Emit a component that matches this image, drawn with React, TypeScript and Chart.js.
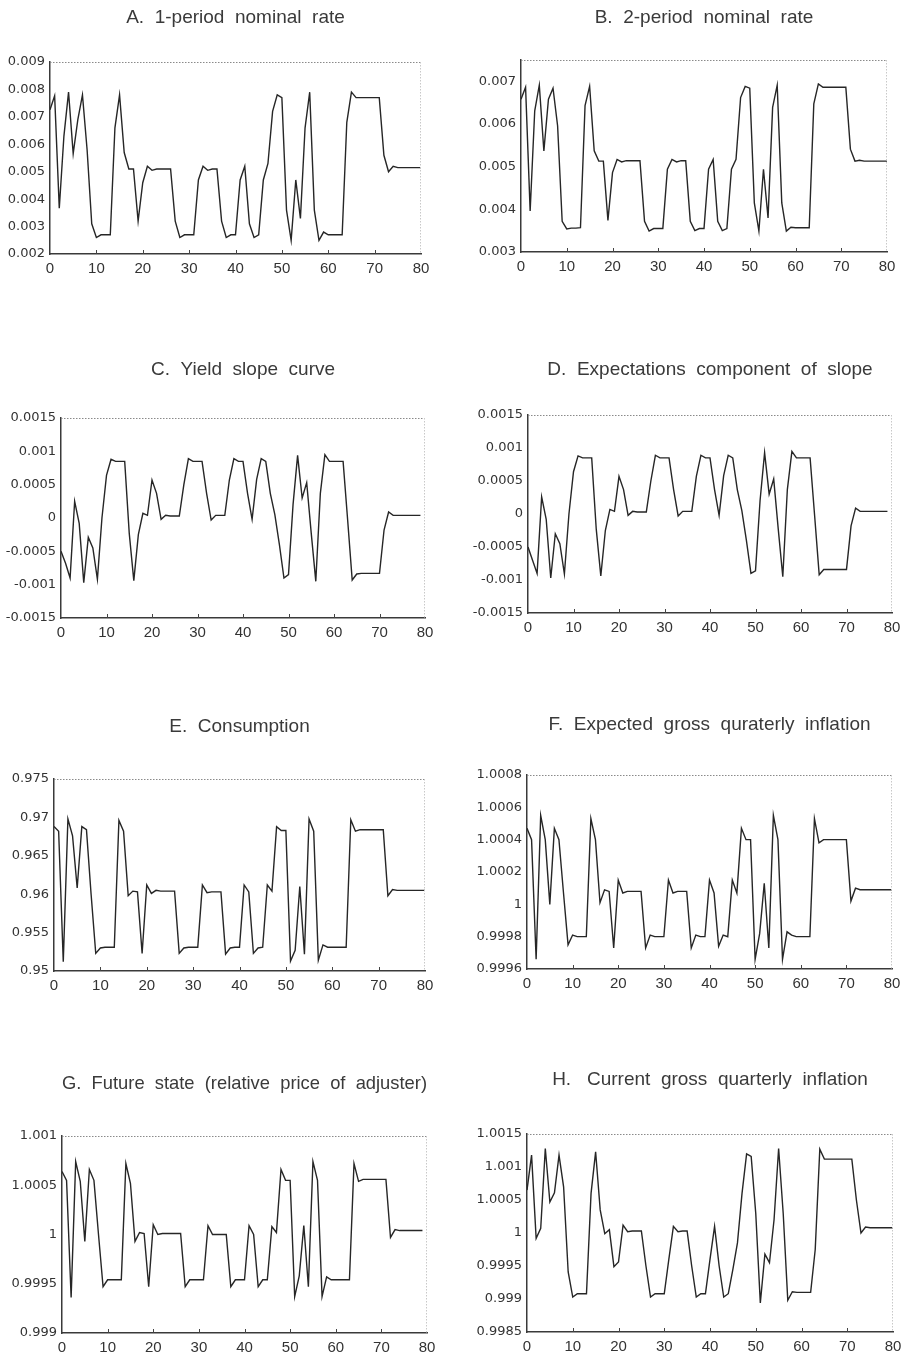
import React, { useEffect, useRef } from "react";
import { Chart, registerables } from "chart.js";

Chart.register(...registerables);

// ---------- data ----------
const xTickValues = [0, 10, 20, 30, 40, 50, 60, 70, 80];
const xTickLabels = ["0", "10", "20", "30", "40", "50", "60", "70", "80"];

const rate1 = [
  0.00726, 0.00777, 0.00367, 0.0063, 0.0079, 0.00566, 0.0069, 0.0078, 0.0058, 0.0031,
  0.0026, 0.0027, 0.0027, 0.0027, 0.0066, 0.0078, 0.0057, 0.0051, 0.0051, 0.0032,
  0.0046, 0.0052, 0.00505, 0.0051, 0.0051, 0.0051, 0.0051, 0.0032, 0.0026, 0.0027,
  0.0027, 0.0027, 0.0047, 0.0052, 0.00505, 0.0051, 0.0051, 0.0032, 0.0026, 0.0027,
  0.0027, 0.0047, 0.0052, 0.0031, 0.0026, 0.0027, 0.0047, 0.0053, 0.0072, 0.0078,
  0.0077, 0.0036, 0.0025, 0.0047, 0.0033, 0.0066, 0.0079, 0.0036, 0.0025, 0.0028,
  0.0027, 0.0027, 0.0027, 0.0027, 0.0068, 0.0079, 0.0077, 0.0077, 0.0077, 0.0077,
  0.0077, 0.0077, 0.0056, 0.005, 0.0052, 0.00515, 0.00515, 0.00515, 0.00515, 0.00515, 0.00515,
];
const rate1Ticks = [0.002, 0.003, 0.004, 0.005, 0.006, 0.007, 0.008, 0.009];
const rate1Labels = ["0.002", "0.003", "0.004", "0.005", "0.006", "0.007", "0.008", "0.009"];

const rate2 = [
  0.00658, 0.00686, 0.00396, 0.00631, 0.00691, 0.00537, 0.00658, 0.00684, 0.00596, 0.00372,
  0.00354, 0.00356, 0.00356, 0.00357, 0.00643, 0.00688, 0.00537, 0.00513, 0.00513, 0.00374,
  0.00486, 0.00517, 0.00511, 0.00514, 0.00514, 0.00514, 0.00514, 0.00372, 0.00349, 0.00355,
  0.00355, 0.00355, 0.00494, 0.00517, 0.00511, 0.00514, 0.00514, 0.00372, 0.0035, 0.00355,
  0.00355, 0.00494, 0.00517, 0.00372, 0.0035, 0.00355, 0.00494, 0.00517, 0.00662, 0.00688,
  0.00684, 0.00415, 0.00349, 0.00494, 0.0038, 0.00639, 0.00691, 0.00415, 0.00349, 0.00358,
  0.00357, 0.00357, 0.00357, 0.00357, 0.00647, 0.00694, 0.00686, 0.00686, 0.00686, 0.00686,
  0.00686, 0.00686, 0.00541, 0.00513, 0.00515, 0.00513, 0.00513, 0.00513, 0.00513, 0.00513, 0.00513,
];
const rate2Ticks = [0.003, 0.004, 0.005, 0.006, 0.007];
const rate2Labels = ["0.003", "0.004", "0.005", "0.006", "0.007"];

const slope = [
  -0.0005, -0.00068, -0.0009, 0.00025, -0.00008, -0.00097, -0.00029, -0.00045, -0.00092, 0.0,
  0.00064, 0.00088, 0.00085, 0.00085, 0.00085, -0.00023, -0.00094, -0.00025, 0.00007, 0.00004,
  0.00057, 0.00037, -0.00002, 0.00004, 0.00003, 0.00003, 0.00003, 0.0005, 0.00089, 0.00085,
  0.00085, 0.00085, 0.00037, -0.00003, 0.00004, 0.00004, 0.00004, 0.00057, 0.00089, 0.00085,
  0.00085, 0.00037, -0.00002, 0.00058, 0.00089, 0.00085, 0.00037, 0.00005, -0.0004, -0.0009,
  -0.00085, 0.0002, 0.00094, 0.0003, 0.00053, -0.00023, -0.00095, 0.00037, 0.00095, 0.00085,
  0.00085, 0.00085, 0.00085, -0.00003, -0.00093, -0.00084, -0.00083, -0.00083, -0.00083, -0.00083,
  -0.00083, -0.00018, 0.00009, 0.00004, 0.00004, 0.00004, 0.00004, 0.00004, 0.00004, 0.00004,
];
const expSlope = [
  -0.0005, -0.0007, -0.0009, 0.00026, -0.00008, -0.00097, -0.0003, -0.00045, -0.00091, 0.0,
  0.00064, 0.00088, 0.00085, 0.00085, 0.00085, -0.00023, -0.00094, -0.00025, 0.00007, 0.00004,
  0.00057, 0.00037, -0.00002, 0.00004, 0.00003, 0.00003, 0.00003, 0.0005, 0.00089, 0.00085,
  0.00085, 0.00085, 0.00037, -0.00003, 0.00004, 0.00004, 0.00004, 0.00057, 0.00089, 0.00085,
  0.00085, 0.00037, -0.00002, 0.00058, 0.00089, 0.00085, 0.00037, 0.00005, -0.0004, -0.0009,
  -0.00086, 0.0002, 0.00093, 0.0003, 0.00053, -0.00023, -0.00095, 0.00037, 0.00095, 0.00085,
  0.00085, 0.00085, 0.00085, -0.00003, -0.00092, -0.00084, -0.00084, -0.00084, -0.00084, -0.00084,
  -0.00084, -0.00018, 0.00009, 0.00004, 0.00004, 0.00004, 0.00004, 0.00004, 0.00004, 0.00004,
];
const slopeTicks = [-0.0015, -0.001, -0.0005, 0, 0.0005, 0.001, 0.0015];
const slopeLabels = ["-0.0015", "-0.001", "-0.0005", "0", "0.0005", "0.001", "0.0015"];

const consumption = [
  0.9688, 0.9682, 0.9512, 0.9698, 0.9676, 0.9608, 0.9688, 0.9684, 0.96, 0.9523,
  0.953, 0.9531, 0.9531, 0.9531, 0.9696, 0.9682, 0.9598, 0.9604, 0.9603, 0.9523,
  0.9612, 0.9601, 0.9605, 0.9604, 0.9604, 0.9604, 0.9604, 0.9523, 0.953, 0.9531,
  0.9531, 0.9531, 0.9612, 0.9602, 0.9603, 0.9603, 0.9603, 0.9522, 0.953, 0.9531,
  0.9531, 0.9612, 0.9603, 0.9523, 0.953, 0.9531, 0.9612, 0.9604, 0.9688, 0.9683,
  0.9683, 0.9513, 0.9527, 0.961, 0.9522, 0.9698, 0.9682, 0.9514, 0.9534, 0.9531,
  0.9531, 0.9531, 0.9531, 0.9531, 0.9697, 0.9682, 0.9684, 0.9684, 0.9684, 0.9684,
  0.9684, 0.9684, 0.9598, 0.9606, 0.9605, 0.9605, 0.9605, 0.9605, 0.9605, 0.9605, 0.9605,
];
const consTicks = [0.95, 0.955, 0.96, 0.965, 0.97, 0.975];
const consLabels = ["0.95", "0.955", "0.96", "0.965", "0.97", "0.975"];

const expInfl = [
  1.00047, 1.0004, 0.99966, 1.00055, 1.0004, 1.0, 1.00047, 1.0004, 1.00007, 0.99975,
  0.99981, 0.9998, 0.9998, 0.9998, 1.00053, 1.0004, 1.00001, 1.00009, 1.00008, 0.99973,
  1.00015, 1.00007, 1.00008, 1.00008, 1.00008, 1.00008, 0.99973, 0.99981, 0.9998, 0.9998,
  0.9998, 1.00015, 1.00007, 1.00008, 1.00008, 1.00008, 0.99973, 0.99981, 0.9998, 0.9998,
  1.00015, 1.00007, 0.99974, 0.99981, 0.9998, 1.00015, 1.00007, 1.00047, 1.0004, 1.0004,
  0.99966, 0.99982, 1.00013, 0.99973, 1.00055, 1.0004, 0.99966, 0.99983, 0.99981, 0.9998,
  0.9998, 0.9998, 0.9998, 1.00053, 1.00038, 1.0004, 1.0004, 1.0004, 1.0004, 1.0004,
  1.0004, 1.00002, 1.0001, 1.00009, 1.00009, 1.00009, 1.00009, 1.00009, 1.00009, 1.00009, 1.00009,
];
const expInflTicks = [0.9996, 0.9998, 1, 1.0002, 1.0004, 1.0006, 1.0008];
const expInflLabels = ["0.9996", "0.9998", "1", "1.0002", "1.0004", "1.0006", "1.0008"];

const futureState = [
  1.00064, 1.00055, 0.99936, 1.00074, 1.00054, 0.99993, 1.00066, 1.00055, 1.0, 0.99947,
  0.99954, 0.99954, 0.99954, 0.99954, 1.00072, 1.00052, 0.99993, 1.00002, 1.00001, 0.99947,
  1.0001, 1.0, 1.00001, 1.00001, 1.00001, 1.00001, 1.00001, 0.99947, 0.99954, 0.99954,
  0.99954, 0.99954, 1.00009, 1.0, 1.0, 1.0, 1.0, 0.99947, 0.99954, 0.99954,
  0.99954, 1.00009, 1.0, 0.99947, 0.99954, 0.99954, 1.00008, 1.00002, 1.00066, 1.00055,
  1.00055, 0.99937, 0.99958, 1.00009, 0.99947, 1.00074, 1.00055, 0.99937, 0.99957, 0.99954,
  0.99954, 0.99954, 0.99954, 0.99954, 1.00072, 1.00054, 1.00056, 1.00056, 1.00056, 1.00056,
  1.00056, 1.00056, 0.99997, 1.00005, 1.00004, 1.00004, 1.00004, 1.00004, 1.00004, 1.00004,
];
const futureTicks = [0.999, 0.9995, 1, 1.0005, 1.001];
const futureLabels = ["0.999", "0.9995", "1", "1.0005", "1.001"];

const curInfl = [
  1.00065, 1.00118, 0.99992, 1.00007, 1.00128, 1.00047, 1.00061, 1.00118, 1.0007, 0.99941,
  0.99903, 0.99908, 0.99908, 0.99908, 1.0006, 1.00123, 1.00035, 0.99999, 1.00005, 0.99949,
  0.99956, 1.00012, 1.00002, 1.00003, 1.00003, 1.00003, 0.9995, 0.99903, 0.99908, 0.99908,
  0.99908, 0.9996, 1.0001, 1.00002, 1.00003, 1.00003, 0.9995, 0.99903, 0.99908, 0.99908,
  0.9996, 1.0001, 0.9995, 0.99903, 0.99908, 0.99945, 0.99985, 1.0006, 1.0012, 1.00116,
  1.0003, 0.99894, 0.99968, 0.99955, 1.0002, 1.00128, 1.0003, 0.99898, 0.99911, 0.9991,
  0.9991, 0.9991, 0.9991, 0.99975, 1.00127, 1.00112, 1.00112, 1.00112, 1.00112, 1.00112,
  1.00112, 1.00112, 1.0005, 1.0, 1.00009, 1.00008, 1.00008, 1.00008, 1.00008, 1.00008, 1.00008,
];
const curInflTicks = [0.9985, 0.999, 0.9995, 1, 1.0005, 1.001, 1.0015];
const curInflLabels = ["0.9985", "0.999", "0.9995", "1", "1.0005", "1.001", "1.0015"];

// ---------- panels ----------
type PanelCfg = {
  title: string;
  values: number[];
  yMin: number;
  yMax: number;
  yTicks: number[];
  yLabels: string[];
  box: { L: number; T: number; R: number; B: number; ty: number };
};

const panels: PanelCfg[] = [
  { title: "A.  1-period  nominal  rate", values: rate1, yMin: 0.002, yMax: 0.009, yTicks: rate1Ticks, yLabels: rate1Labels, box: { L: 50, T: 62, R: 421, B: 254, ty: 18 } },
  { title: "B.  2-period  nominal  rate", values: rate2, yMin: 0.003, yMax: 0.0075, yTicks: rate2Ticks, yLabels: rate2Labels, box: { L: 521, T: 60, R: 887, B: 252, ty: 18 } },
  { title: "C.  Yield  slope  curve", values: slope, yMin: -0.0015, yMax: 0.0015, yTicks: slopeTicks, yLabels: slopeLabels, box: { L: 61, T: 418, R: 425, B: 618, ty: 370 } },
  { title: "D.  Expectations  component  of  slope", values: expSlope, yMin: -0.0015, yMax: 0.0015, yTicks: slopeTicks, yLabels: slopeLabels, box: { L: 528, T: 415, R: 892, B: 613, ty: 370 } },
  { title: "E.  Consumption", values: consumption, yMin: 0.95, yMax: 0.975, yTicks: consTicks, yLabels: consLabels, box: { L: 54, T: 779, R: 425, B: 971, ty: 727 } },
  { title: "F.  Expected  gross  quraterly  inflation", values: expInfl, yMin: 0.9996, yMax: 1.0008, yTicks: expInflTicks, yLabels: expInflLabels, box: { L: 527, T: 775, R: 892, B: 969, ty: 725 } },
  { title: "G.  Future  state  (relative  price  of  adjuster)", values: futureState, yMin: 0.999, yMax: 1.001, yTicks: futureTicks, yLabels: futureLabels, box: { L: 62, T: 1136, R: 427, B: 1333, ty: 1084 } },
  { title: "H.   Current  gross  quarterly  inflation", values: curInfl, yMin: 0.9985, yMax: 1.0015, yTicks: curInflTicks, yLabels: curInflLabels, box: { L: 527, T: 1134, R: 893, B: 1332, ty: 1080 } },
];

const YW = 58;
const XH = 30;
const PADR = 18;
const TITLE_SIZE = 19;
const TITLE_LH = 1.2;
const TITLE_ABOVE = 22;

const TITLE_FONT = "'Liberation Sans', Arial, sans-serif";
const TICK_FONT = "'DejaVu Sans', Verdana, sans-serif";
const XTICK_FONT = "'Liberation Sans', Arial, sans-serif";

const framePlugin = {
  id: "frame",
  afterDraw(chart: any) {
    const { ctx, chartArea } = chart;
    const { left, right, top, bottom } = chartArea;
    ctx.save();
    ctx.strokeStyle = "#8a8a8a";
    ctx.lineWidth = 1;
    ctx.setLineDash([1.5, 1.5]);
    ctx.beginPath();
    ctx.moveTo(left, top + 0.5);
    ctx.lineTo(right, top + 0.5);
    ctx.stroke();
    ctx.strokeStyle = "#c8c8c8";
    ctx.beginPath();
    ctx.moveTo(right - 0.5, top);
    ctx.lineTo(right - 0.5, bottom);
    ctx.stroke();
    ctx.setLineDash([]);
    ctx.strokeStyle = "#444";
    const xs = chart.scales.x;
    xTickValues.slice(1, -1).forEach((v) => {
      const px = Math.round(xs.getPixelForValue(v)) + 0.5;
      ctx.beginPath();
      ctx.moveTo(px, bottom);
      ctx.lineTo(px, bottom - 4);
      ctx.stroke();
    });
    ctx.restore();
  },
};

function Panel({ cfg }: { cfg: PanelCfg }) {
  const ref = useRef<HTMLCanvasElement>(null);
  const { L, T, R, B, ty } = cfg.box;
  const left = L - YW;
  const top = ty - TITLE_ABOVE;
  const width = R + PADR - left;
  const height = B + XH - top;
  const lh = TITLE_SIZE * TITLE_LH;

  useEffect(() => {
    const canvas = ref.current;
    if (!canvas) return;
    const x = cfg.values.map((_, i) => i);
    const chart = new Chart(canvas, {
      type: "line",
      data: {
        labels: x,
        datasets: [
          {
            data: cfg.values,
            borderColor: "#262626",
            borderWidth: 1.4,
            pointRadius: 0,
            tension: 0,
            fill: false,
          },
        ],
      },
      options: {
        animation: false,
        responsive: false,
        maintainAspectRatio: false,
        events: [],
        layout: { padding: { left: 0, right: PADR, top: 0, bottom: 0 } },
        plugins: {
          legend: { display: false },
          tooltip: { enabled: false },
          title: {
            display: true,
            text: cfg.title,
            fullSize: false,
            color: "#3a3a3a",
            font: { family: TITLE_FONT, size: TITLE_SIZE, weight: "normal", lineHeight: TITLE_LH },
            padding: { top: TITLE_ABOVE - lh / 2, bottom: T - ty - lh / 2 },
          },
        },
        scales: {
          x: {
            type: "linear",
            min: 0,
            max: 80,
            afterBuildTicks: (s: any) => {
              s.ticks = xTickValues.map((v) => ({ value: v }));
            },
            afterFit: (s: any) => {
              s.height = XH;
            },
            ticks: {
              autoSkip: false,
              maxRotation: 0,
              padding: 6,
              color: "#333",
              font: { family: XTICK_FONT, size: 15 },
              callback: (_v: any, i: number) => xTickLabels[i],
            },
            grid: { display: false, drawTicks: false },
            border: { display: true, color: "#3a3a3a", width: 1.5 },
          },
          y: {
            type: "linear",
            min: cfg.yMin,
            max: cfg.yMax,
            afterBuildTicks: (s: any) => {
              s.ticks = cfg.yTicks.map((v) => ({ value: v }));
            },
            afterFit: (s: any) => {
              s.width = YW;
            },
            ticks: {
              autoSkip: false,
              padding: 5,
              color: "#333",
              font: { family: TICK_FONT, size: 13 },
              callback: (_v: any, i: number) => cfg.yLabels[i],
            },
            grid: { display: false, drawTicks: false },
            border: { display: true, color: "#3a3a3a", width: 1.5 },
          },
        },
      },
      plugins: [framePlugin],
    } as any);
    return () => chart.destroy();
  }, []);

  return (
    <canvas
      ref={ref}
      width={width}
      height={height}
      style={{ position: "absolute", left, top, width, height }}
    />
  );
}

export default function App() {
  return (
    <div
      style={{
        position: "absolute",
        left: 0,
        top: 0,
        width: 909,
        height: 1361,
        background: "#ffffff",
        overflow: "hidden",
      }}
    >
      {panels.map((p, i) => (
        <Panel key={i} cfg={p} />
      ))}
    </div>
  );
}
